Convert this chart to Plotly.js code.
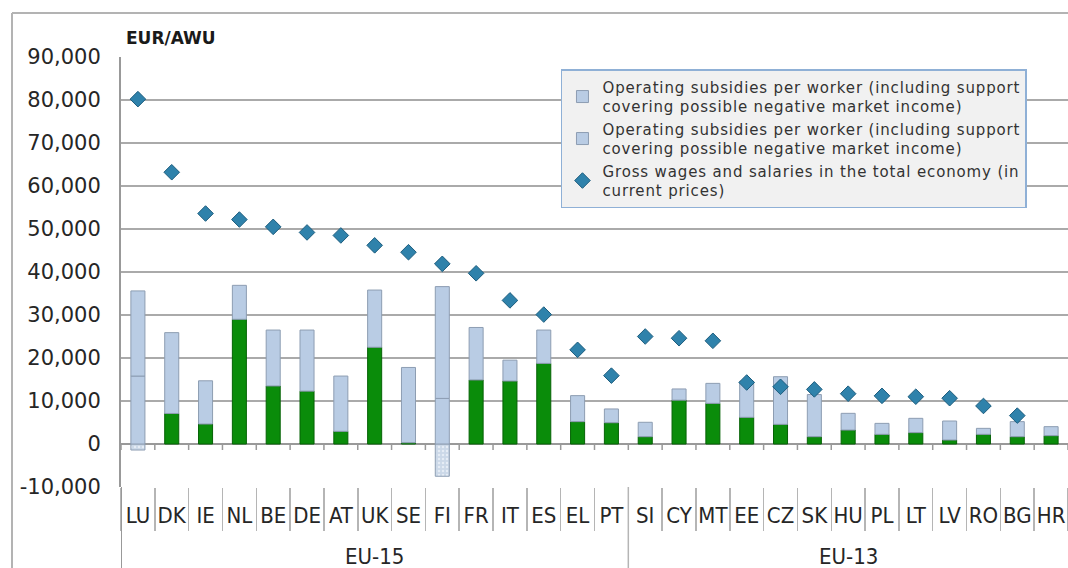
<!DOCTYPE html>
<html>
<head>
<meta charset="utf-8">
<script src="https://cdn.plot.ly/plotly-3.0.1.min.js"></script>
<style>
  html, body { margin: 0; padding: 0; background: #ffffff; }
  #chart { width: 1068px; height: 568px; }
  .legendtext { letter-spacing: 0.85px; }
</style>
</head>
<body>
<div id="chart"></div>
<script>
// ---- data ----
const countries = ['LU','DK','IE','NL','BE','DE','AT','UK','SE','FI','FR','IT','ES','EL','PT',
                   'SI','CY','MT','EE','CZ','SK','HU','PL','LT','LV','RO','BG','HR'];
const groupNames = ['EU-15', 'EU-13'];
const groupSizes = [15, 13];
// market income per worker (green; negative part drawn light below zero)
const marketIncome = [-1400, 7100, 4650, 29000, 13500, 12300, 2950, 22500, 300, -7500, 14900, 14650, 18750, 5200, 4950,
                      1700, 10200, 9450, 6200, 4570, 1700, 3250, 2250, 2640, 930, 2250, 1700, 1940];
// operating subsidies per worker, first series
const subsidies1 = [15800, 18800, 10050, 7900, 13000, 14200, 12850, 13300, 17500, 10600, 12200, 4850, 7750, 6050, 3200,
                    3350, 2600, 4650, 8400, 11080, 9800, 3880, 2550, 3330, 4420, 1390, 3500, 2090];
// operating subsidies per worker, second series
const subsidies2 = [19800, null, null, null, null, null, null, null, null, 26000, null, null, null, null, null,
                    null, null, null, null, null, null, null, null, null, null, null, null, null];
// gross wages and salaries in the total economy
const wages = [80200, 63200, 53600, 52200, 50500, 49200, 48500, 46200, 44600, 41900, 39700, 33400, 30100, 21900, 15900,
               25000, 24600, 24000, 14300, 13300, 12700, 11700, 11200, 11000, 10650, 8850, 6600, null];
const yTickValues = [-10000, 0, 10000, 20000, 30000, 40000, 50000, 60000, 70000, 80000, 90000];
const yTickLabels = ['-10,000', '0', '10,000', '20,000', '30,000', '40,000', '50,000', '60,000', '70,000', '80,000', '90,000'];
const unitLabel = 'EUR/AWU';
const seriesNames = [
  'Operating subsidies per worker (including support<br>covering possible negative market income)',
  'Operating subsidies per worker (including support<br>covering possible negative market income)',
  'Gross wages and salaries in the total economy (in<br>current prices)'
];

// ---- derived ----
const greenPart = marketIncome.map(v => v > 0 ? v : null);
const negPart = marketIncome.map(v => v < 0 ? v : null);

const BLUE = '#b9cce4', BLUE_LINE = '#8d9db2';
const GREEN = '#0a8c0a', GREEN_LINE = '#056205';
const GRID = '#aaaaaa';
const TXT = '#262626';
const numFont = 'DejaVu Sans, Verdana, sans-serif';
const condFont = 'DejaVu Sans Condensed, DejaVu Sans, sans-serif';

const traces = [
  { type: 'bar', x: countries, y: greenPart, name: 'market', showlegend: false,
    marker: { color: GREEN, line: { color: GREEN_LINE, width: 1 } } },
  { type: 'bar', x: countries, y: negPart, name: 'negative', showlegend: false,
    marker: { color: '#cfdbea', line: { color: BLUE_LINE, width: 1 },
              pattern: { shape: '.', fillmode: 'replace', bgcolor: '#cbd8e8', fgcolor: '#e6edf6', size: 4, solidity: 0.3 } } },
  { type: 'bar', x: countries, y: subsidies1, name: seriesNames[0],
    marker: { color: BLUE, line: { color: BLUE_LINE, width: 1 } } },
  { type: 'bar', x: countries, y: subsidies2, name: seriesNames[1],
    marker: { color: BLUE, line: { color: BLUE_LINE, width: 1 } } },
  { type: 'scatter', mode: 'markers', x: countries, y: wages, name: seriesNames[2],
    marker: { symbol: 'diamond', size: 12, color: '#2f82ab', line: { color: '#1d5d7e', width: 1 } } }
];

// decorations: separators/ticks derived from category indices
const shapes = [];
for (let i = 0; i <= countries.length; i++) {
  shapes.push({ type: 'line', xref: 'x', yref: 'y', ysizemode: 'pixel', yanchor: 0,
    x0: i - 0.5, x1: i - 0.5, y0: 0, y1: -6, line: { color: '#999999', width: 1.5 } });
}
let acc = 0;
const groupCenters = [];
groupSizes.forEach((n) => {
  groupCenters.push(acc + (n - 1) / 2);
  acc += n;
});
[-0.5, groupSizes[0] - 0.5].forEach(xb => {
  shapes.push({ type: 'line', xref: 'x', yref: 'paper', x0: xb, x1: xb, y0: 0, y1: -0.3,
    line: { color: xb < 0 ? '#999999' : '#b5b5b5', width: xb < 0 ? 2 : 1.5 } });
});
shapes.push({ type: 'line', xref: 'paper', yref: 'paper', x0: -0.1151, x1: -0.1151, y0: 1.1023, y1: -0.3,
  line: { color: '#b3b3b3', width: 2 } });
shapes.push({ type: 'line', xref: 'paper', yref: 'paper', x0: -0.1151, x1: 1.1, y0: 1.1023, y1: 1.1023,
  line: { color: '#b3b3b3', width: 2 } });

const annotations = [
  { text: '<b>' + unitLabel + '</b>', xref: 'paper', yref: 'paper', x: 0.003, y: 1.0442,
    xanchor: 'left', yanchor: 'middle', showarrow: false,
    font: { family: numFont, size: 17, color: '#1a1a1a' } }
];
groupNames.forEach((g, gi) => {
  annotations.push({ text: g, xref: 'x', yref: 'paper', x: groupCenters[gi], y: -0.1605,
    xanchor: 'center', yanchor: 'middle', showarrow: false,
    font: { family: condFont, size: 22, color: TXT } });
});

const layout = {
  width: 1068, height: 568,
  margin: { l: 121, r: 0, t: 57, b: 81 },
  paper_bgcolor: '#ffffff', plot_bgcolor: '#ffffff',
  barmode: 'relative', bargap: 0.585,
  showlegend: true,
  legend: {
    x: 0.4646, y: 0.972, xanchor: 'left', yanchor: 'top',
    bgcolor: '#f1f1f1', bordercolor: '#8fb0d6', borderwidth: 1.5,
    font: { family: numFont, size: 15, color: '#333333' },
    traceorder: 'normal', itemwidth: 30
  },
  xaxis: {
    type: 'category', categoryorder: 'array', categoryarray: countries,
    range: [-0.5, countries.length - 0.5],
    tickson: 'boundaries', ticks: 'outside', ticklen: 43, tickwidth: 1.5, tickcolor: '#b5b5b5',
    tickangle: 0, ticklabelstandoff: 13,
    tickfont: { family: condFont, size: 22, color: TXT },
    showgrid: false, showline: false, zeroline: false, fixedrange: true
  },
  yaxis: {
    range: [-10000, 90000], tickmode: 'array', tickvals: yTickValues, ticktext: yTickLabels,
    tickfont: { family: numFont, size: 21, color: TXT },
    ticks: '', ticklabelstandoff: 14,
    showgrid: true, gridcolor: GRID, gridwidth: 1.5,
    zeroline: true, zerolinecolor: '#999999', zerolinewidth: 1.5,
    showline: true, linecolor: '#999999', linewidth: 2, fixedrange: true
  },
  shapes: shapes,
  annotations: annotations
};

Plotly.newPlot('chart', traces, layout, { displayModeBar: false, staticPlot: true });
</script>
</body>
</html>
